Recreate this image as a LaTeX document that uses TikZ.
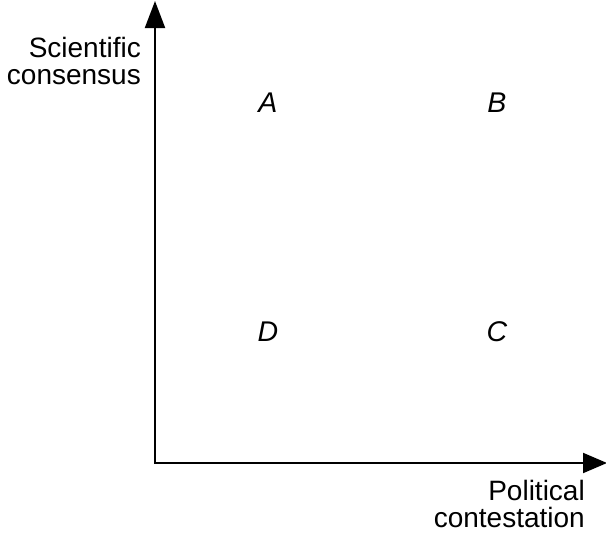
\documentclass[tikz,border=0pt]{standalone}
\usepackage{fontspec}
\setmainfont{Liberation Sans}
\usetikzlibrary{arrows.meta}
\tikzset{
  axis/.style={line width=2pt, {Triangle[length=27pt,width=20pt]}-{Triangle[length=24pt,width=20pt]}},
  lbl/.style={inner sep=0pt, font=\fontsize{28}{32}\selectfont},
  quad/.style={inner sep=0pt, font=\fontsize{28.5}{32}\selectfont\itshape, anchor=base}
}
\begin{document}
\begin{tikzpicture}[x=1pt,y=-1pt]
\useasboundingbox (0,0) rectangle (606,536);
\coordinate (O) at (155,463);
\coordinate (Y) at (155,1);
\coordinate (X) at (607,463);
\draw[axis] (Y) -- (O) -- (X);
\node[lbl, anchor=base east] (sci) at (141,57) {Scientific};
\node[lbl, anchor=base east] (cons) at (141,84) {consensus};
\node[lbl, anchor=base east] (pol) at (585,500) {Political};
\node[lbl, anchor=base east] (cont) at (585,527) {contestation};
\node[quad] (A) at (268,112) {A};
\node[quad] (B) at (497,112) {B};
\node[quad] (D) at (268,341) {D};
\node[quad] (C) at (497,341) {C};
\end{tikzpicture}
\end{document}
